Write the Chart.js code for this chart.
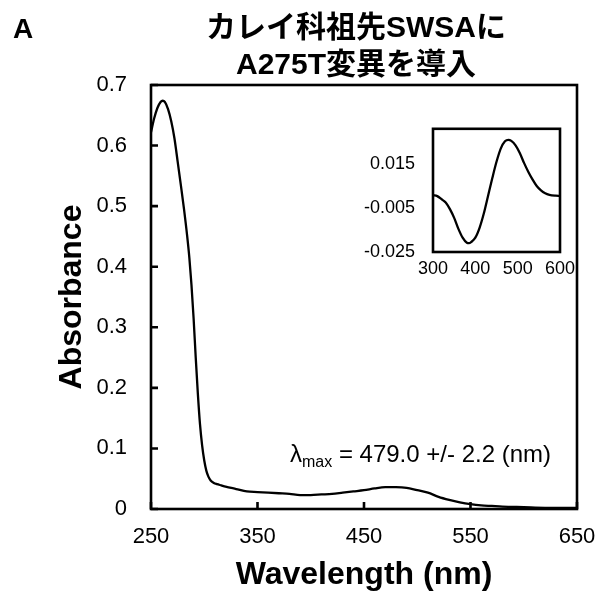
<!DOCTYPE html>
<html>
<head>
<meta charset="utf-8">
<script src="https://cdn.jsdelivr.net/npm/chart.js@4"></script>
<style>
  body { margin: 0; background: #fff; }
  #wrap { position: relative; width: 599px; height: 600px; }
  #main { position: absolute; left: 0; top: 0; }
  #inset { position: absolute; left: 360px; top: 100px; }
</style>
</head>
<body>
<div id="wrap">
  <canvas id="main" width="599" height="600"></canvas>
  <canvas id="inset" width="239" height="190"></canvas>
</div>
<script>
// 吸収スペクトル (nm, Abs)
const wavelength = [250, 253, 256, 259, 261, 263, 266, 269, 272, 275, 278, 281, 284, 286, 288, 290, 292, 294, 296, 298,
  300, 302, 304, 306, 309, 312, 316, 320, 330, 340, 350, 360, 370, 380, 390, 400, 410, 420, 430, 440, 450,
  460, 470, 480, 490, 500, 510, 520, 530, 540, 550, 560, 570, 580, 600, 620, 650];
const absorbance = [0.622, 0.645, 0.662, 0.672, 0.674, 0.672, 0.660, 0.640, 0.612, 0.574, 0.535, 0.495, 0.450, 0.415, 0.370, 0.315, 0.250, 0.190, 0.140, 0.105,
  0.080, 0.063, 0.053, 0.047, 0.043, 0.041, 0.039, 0.037, 0.033, 0.029, 0.028, 0.027, 0.026, 0.025, 0.023, 0.023, 0.024, 0.025, 0.027, 0.029, 0.031,
  0.034, 0.036, 0.036, 0.035, 0.031, 0.027, 0.020, 0.015, 0.011, 0.008, 0.006, 0.005, 0.004, 0.003, 0.002, 0.002];

// 差スペクトル (挿入図)
const diffWavelength = [300, 310, 320, 330, 340, 350, 360, 370, 380, 385, 390, 400, 410, 420, 430, 440, 450, 460, 470, 478,
  485, 495, 505, 515, 525, 535, 545, 555, 565, 575, 590, 600];
const diffAbsorbance = [0.0008, 0.0004, -0.001, -0.0025, -0.0055, -0.0095, -0.0145, -0.0185, -0.0208, -0.021, -0.0205, -0.0185, -0.014, -0.0075, 0.0005, 0.0085, 0.016, 0.022, 0.0253, 0.026,
  0.0255, 0.0235, 0.02, 0.0155, 0.0115, 0.008, 0.005, 0.003, 0.0017, 0.001, 0.0006, 0.0005];

const xTicks = [250, 350, 450, 550, 650];
const yTicks = [0, 0.1, 0.2, 0.3, 0.4, 0.5, 0.6, 0.7];
const insetXTicks = [300, 400, 500, 600];
const insetYTicks = [-0.025, -0.005, 0.015];

const FONT = '"Liberation Sans", Arial, "Noto Sans CJK JP", sans-serif';
Chart.defaults.font.family = FONT;
Chart.defaults.color = '#000';

function toPoints(xs, ys) {
  return xs.map((x, i) => ({ x: x, y: ys[i] }));
}

// 枠線と内向きの目盛り
const frame = {
  id: 'frame',
  afterDatasetsDraw(chart, args, opts) {
    const { ctx, chartArea: a } = chart;
    const sx = chart.scales.x, sy = chart.scales.y;
    ctx.save();
    ctx.strokeStyle = '#000';
    ctx.lineWidth = opts.width;
    ctx.strokeRect(a.left, a.top, a.right - a.left, a.bottom - a.top);
    if (opts.tickLen) {
      ctx.beginPath();
      sx.ticks.forEach(t => {
        const px = sx.getPixelForValue(t.value);
        ctx.moveTo(px, a.bottom);
        ctx.lineTo(px, a.bottom - opts.tickLen);
      });
      sy.ticks.forEach(t => {
        const py = sy.getPixelForValue(t.value);
        ctx.moveTo(a.left, py);
        ctx.lineTo(a.left + opts.tickLen, py);
      });
      ctx.stroke();
    }
    ctx.restore();
  }
};

// タイトル・パネル記号・λmax
const labels = {
  id: 'labels',
  afterDraw(chart) {
    const { ctx } = chart;
    ctx.save();
    ctx.fillStyle = '#000';
    ctx.textBaseline = 'alphabetic';
    ctx.font = 'bold 28px ' + FONT;
    ctx.textAlign = 'left';
    ctx.fillText('A', 13, 38);

    ctx.textAlign = 'center';
    ctx.font = 'bold 30px ' + FONT;
    ctx.fillText('カレイ科祖先SWSAに', 356, 37);
    ctx.fillText('A275T変異を導入', 356, 74);

    // λmax = ...
    const y = 462;
    let x = 290;
    ctx.textAlign = 'left';
    ctx.font = '24px ' + FONT;
    ctx.fillText('λ', x, y);
    x += ctx.measureText('λ').width;
    ctx.font = '16px ' + FONT;
    ctx.fillText('max', x, y + 5);
    x += ctx.measureText('max').width;
    ctx.font = '24px ' + FONT;
    ctx.fillText(' = 479.0 +/- 2.2 (nm)', x, y);
    ctx.restore();
  }
};

// 端の目盛りラベルによる余白の自動拡張を止める
function noEdgePadding(s) {
  s.paddingLeft = 0;
  s.paddingRight = 0;
}

new Chart(document.getElementById('main'), {
  type: 'scatter',
  data: {
    datasets: [{
      data: toPoints(wavelength, absorbance),
      showLine: true,
      borderColor: '#000',
      borderWidth: 2.3,
      pointRadius: 0,
      cubicInterpolationMode: 'monotone'
    }]
  },
  options: {
    responsive: false,
    animation: false,
    events: [],
    layout: { padding: { left: 0, top: 85, right: 22, bottom: 0 } },
    plugins: {
      legend: { display: false },
      tooltip: { enabled: false },
      frame: { width: 2.6, tickLen: 7 }
    },
    scales: {
      x: {
        type: 'linear',
        min: 250,
        max: 650,
        grid: { display: false, drawTicks: false },
        border: { display: false },
        afterBuildTicks: s => { s.ticks = xTicks.map(v => ({ value: v })); },
        afterFit: s => { s.height = 91; noEdgePadding(s); },
        ticks: { font: { size: 22 }, padding: 15, maxRotation: 0, callback: v => String(v) },
        title: {
          display: true,
          text: 'Wavelength (nm)',
          font: { size: 32, weight: 'bold' },
          padding: { top: 0, bottom: 6 }
        }
      },
      y: {
        type: 'linear',
        min: 0,
        max: 0.7,
        grid: { display: false, drawTicks: false },
        border: { display: false },
        afterBuildTicks: s => { s.ticks = yTicks.map(v => ({ value: v })); },
        afterFit: s => { s.width = 151; },
        ticks: { font: { size: 22 }, padding: 24, callback: v => (v === 0 ? '0' : v.toFixed(1)) },
        title: {
          display: true,
          text: 'Absorbance',
          font: { size: 32, weight: 'bold' },
          padding: { top: 53, bottom: 0 }
        }
      }
    }
  },
  plugins: [frame, labels]
});

// 挿入図: 差スペクトル
new Chart(document.getElementById('inset'), {
  type: 'scatter',
  data: {
    datasets: [{
      data: toPoints(diffWavelength, diffAbsorbance),
      showLine: true,
      borderColor: '#000',
      borderWidth: 2.3,
      pointRadius: 0,
      cubicInterpolationMode: 'monotone'
    }]
  },
  options: {
    responsive: false,
    animation: false,
    events: [],
    layout: { padding: { left: 0, top: 13, right: 39, bottom: 0 } },
    plugins: {
      legend: { display: false },
      tooltip: { enabled: false },
      frame: { width: 2.6, tickLen: 0 }
    },
    scales: {
      x: {
        type: 'linear',
        min: 300,
        max: 600,
        grid: { display: false, drawTicks: false },
        border: { display: false },
        afterBuildTicks: s => { s.ticks = insetXTicks.map(v => ({ value: v })); },
        afterFit: s => { s.height = 38; noEdgePadding(s); },
        ticks: { font: { size: 18 }, padding: 6, maxRotation: 0, callback: v => String(v) }
      },
      y: {
        type: 'linear',
        min: -0.025,
        max: 0.031,
        grid: { display: false, drawTicks: false },
        border: { display: false },
        afterBuildTicks: s => { s.ticks = insetYTicks.map(v => ({ value: v })); },
        afterFit: s => { s.width = 73; },
        ticks: { font: { size: 18 }, padding: 18, callback: v => v.toFixed(3) }
      }
    }
  },
  plugins: [frame]
});
</script>
</body>
</html>
